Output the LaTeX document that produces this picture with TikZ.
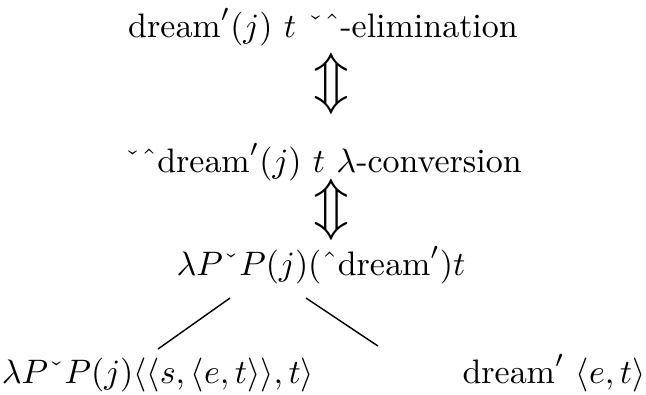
\documentclass[tikz,border=0pt]{standalone}
\usepackage{amsmath}
\usetikzlibrary{positioning, calc}
\newcommand{\extn}{\check{\hphantom{o}}}
\newcommand{\intn}{\hat{\hphantom{o}}}

\begin{document}
\begin{tikzpicture}[
			x=0.2945pt, y=-0.2945pt,
			term/.style={anchor=base, inner sep=3.2pt},
			equiv/.style={anchor=center, inner sep=0pt, font=\LARGE},
			branch/.style={line width=0.42pt}
		]
		\useasboundingbox (0,0) rectangle (646,394);
		% Derivation steps
		\node[term] (elim) at (323,37) {$\mathrm{dream}'(j)\ t\ \extn\intn$-elimination};
		\node[equiv] (eqA) at (331,84) {$\Updownarrow$};
		\node[term] (conv) at (323,172) {$\extn\intn\mathrm{dream}'(j)\ t\ \lambda$-conversion};
		\node[equiv] (eqB) at (331,210) {$\Updownarrow$};
		\node[term] (app) at (321,275) {$\lambda P\extn P(j)(\intn\mathrm{dream}')t$};
		
		% Daughters
		\node[term] (fun) at (158,383) {$\lambda P\extn P(j)\langle\langle s,\langle e,t\rangle\rangle,t\rangle$};
		\node[term] (arg) at (554,383) {$\mathrm{dream}'\ \langle e,t\rangle$};
		
		% Branches
		\coordinate (appL) at ($(app.south)+(-91,3)$);
		\coordinate (appR) at ($(app.south)+(-15,3)$);
		\coordinate (argT) at ($(arg.north)+(-176,3)$);
		\draw[branch] (appL) -- ($(fun.north)+(0,3)$);
		\draw[branch] (appR) -- (argT);
		\end{tikzpicture}
\end{document}
